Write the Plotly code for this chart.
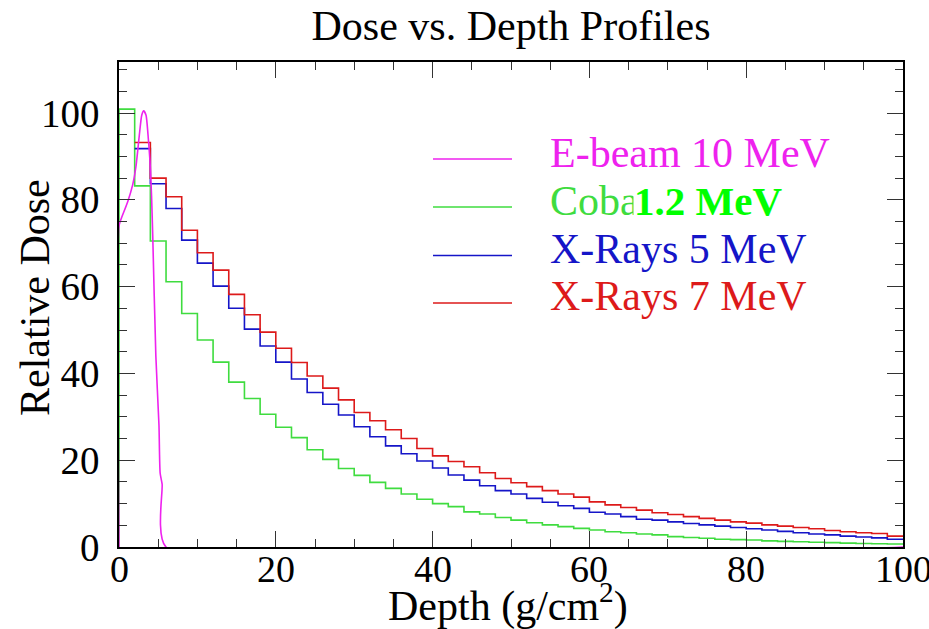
import plotly.graph_objects as go

# ---------------- data ----------------
bin_edges_green = [0, 0, 2, 4, 6, 8, 10, 12, 14, 16, 18, 20, 22, 24, 26, 28, 30, 32, 34, 36, 38,
                   40, 42, 44, 46, 48, 50, 52, 54, 56, 58, 60, 62, 64, 66, 68, 70, 72, 74, 76, 78,
                   80, 82, 84, 86, 88, 90, 92, 94, 96, 98, 100]
cobalt = [0, 100.9, 83.2, 70.5, 61.1, 53.8, 47.7, 42.6, 38.0, 34.2, 30.6, 27.6, 25.2, 22.4, 20.2,
          18.1, 16.5, 14.9, 13.5, 12.2, 11.0, 10.0, 9.3, 8.1, 7.6, 6.8, 6.2, 5.6, 5.1, 4.7, 4.3,
          3.9, 3.5, 3.3, 3.0, 2.8, 2.4, 2.2, 2.0, 1.8, 1.7, 1.6, 1.4, 1.3, 1.2, 1.1, 1.0, 0.9,
          0.8, 0.75, 0.7, 0.7]

bin_edges_x = [2, 4, 6, 8, 10, 12, 14, 16, 18, 20, 22, 24, 26, 28, 30, 32, 34, 36, 38,
               40, 42, 44, 46, 48, 50, 52, 54, 56, 58, 60, 62, 64, 66, 68, 70, 72, 74, 76, 78,
               80, 82, 84, 86, 88, 90, 92, 94, 96, 98, 100]
xray5 = [91.8, 83.7, 78.0, 70.7, 65.4, 60.1, 55.0, 50.2, 46.3, 42.6, 38.7, 35.6, 32.9, 30.4,
         27.7, 25.4, 23.3, 21.5, 19.8, 18.2, 16.6, 15.4, 14.1, 13.0, 12.2, 11.2, 10.3, 9.5, 8.9,
         8.0, 7.6, 7.0, 6.4, 6.2, 5.8, 5.4, 5.1, 4.8, 4.5, 4.2, 3.9, 3.6, 3.3, 3.0, 2.8, 2.5,
         2.3, 2.1, 1.8, 1.8]
xray7 = [93.2, 85.0, 80.7, 73.0, 67.8, 63.8, 58.2, 53.5, 49.5, 45.8, 42.5, 39.4, 36.6, 33.9,
         31.0, 29.1, 27.0, 25.0, 22.7, 21.0, 19.7, 18.5, 17.1, 15.8, 14.8, 13.9, 13.0, 12.2,
         11.5, 10.4, 9.7, 9.1, 8.5, 7.9, 7.5, 7.0, 6.6, 6.2, 5.8, 5.5, 5.1, 4.8, 4.5, 4.2, 3.8,
         3.5, 3.3, 3.1, 2.5, 2.5]

ebeam_depth = [0, 0, 0.25, 1.1, 1.75, 2.15, 2.6, 2.9, 3.15, 3.45, 3.7, 3.95, 4.15, 4.3, 4.7,
               5.1, 5.25, 5.5, 6.0, 100]
ebeam = [0, 74, 75.5, 79.5, 83.5, 87.5, 95, 99.5, 100.5, 99.5, 95, 89, 81, 72, 44, 28, 17,
         14.5, 0, 0]

labels = ["E-beam 10 MeV", "Cobalt 1.2 MeV", "X-Rays 5 MeV", "X-Rays 7 MeV"]
x_ticks = [0, 20, 40, 60, 80, 100]
y_ticks = [0, 20, 40, 60, 80, 100]

C_MAG = "#ee22ee"
C_GRN = "#3fdc3f"
C_BLU = "#1515c8"
C_RED = "#dd1a1a"
FONT = "Liberation Serif"

fig = go.Figure()
fig.add_trace(go.Scatter(x=bin_edges_green, y=cobalt, mode="lines", line_shape="hv",
                         line=dict(color=C_GRN, width=1.6), name=labels[1]))
fig.add_trace(go.Scatter(x=bin_edges_x, y=xray5, mode="lines", line_shape="hv",
                         line=dict(color=C_BLU, width=1.6), name=labels[2]))
fig.add_trace(go.Scatter(x=bin_edges_x, y=xray7, mode="lines", line_shape="hv",
                         line=dict(color=C_RED, width=1.6), name=labels[3]))
fig.add_trace(go.Scatter(x=ebeam_depth, y=ebeam, mode="lines", line_shape="spline",
                         line=dict(color=C_MAG, width=1.6, smoothing=0.6), name=labels[0]))

W, H = 929, 629
L, R, T, B = 119, 26, 62, 82
pw, ph = W - L - R, H - T - B


def px2paper(px, py):
    return (px - L) / pw, (H - B - py) / ph


# manual legend
rows = [(159, 153, labels[0], C_MAG), (207, 201, labels[1], C_GRN),
        (255.5, 249, labels[2], C_BLU), (303, 296, labels[3], C_RED)]
for ly, ty, txt, col in rows:
    x0, y0 = px2paper(433, ly)
    x1, _ = px2paper(512, ly)
    fig.add_shape(type="line", xref="paper", yref="paper", x0=x0, x1=x1, y0=y0, y1=y0,
                  line=dict(color=col, width=1.6))
    tx, tyy = px2paper(548, ty)
    fig.add_annotation(xref="paper", yref="paper", x=tx, y=tyy, xanchor="left",
                       yanchor="middle", text=txt, showarrow=False,
                       font=dict(family=FONT, size=42, color=col))

# bold overlay on cobalt label
ox, oy = px2paper(633, 201)
fig.add_annotation(xref="paper", yref="paper", x=ox, y=oy, xanchor="left", yanchor="middle",
                   text="<b>1.2 MeV</b>", showarrow=False, bgcolor="white", width=190,
                   align="left", borderpad=0,
                   font=dict(family=FONT, size=41, color="#00ff00"))

# x tick labels
_, tl_y = px2paper(0, 569)
for v in x_ticks:
    fig.add_annotation(xref="x", yref="paper", x=v, y=tl_y, xanchor="center",
                       yanchor="middle", text=str(v), showarrow=False,
                       font=dict(family=FONT, size=38, color="black"))

# axis titles as annotations
ax_x, ax_y = px2paper(508, 603)
fig.add_annotation(xref="paper", yref="paper", x=ax_x, y=ax_y, xanchor="center",
                   yanchor="middle", text="Depth (g/cm<sup>2</sup>)", showarrow=False,
                   font=dict(family=FONT, size=42, color="black"))
ay_x, ay_y = px2paper(35, 298)
fig.add_annotation(xref="paper", yref="paper", x=ay_x, y=ay_y, xanchor="center",
                   yanchor="middle", text="Relative Dose", textangle=-90, showarrow=False,
                   font=dict(family=FONT, size=42, color="black"))

axis_common = dict(showline=True, linecolor="black", linewidth=1.5, mirror="allticks",
                   ticks="inside", ticklen=16, tickwidth=1, tickcolor="#333333",
                   showgrid=False, zeroline=False, ticklabeloverflow="allow",
                   tickfont=dict(family=FONT, size=39, color="black"))

fig.update_layout(
    width=W, height=H,
    margin=dict(l=L, r=R, t=T, b=B, autoexpand=False),
    paper_bgcolor="white", plot_bgcolor="white",
    showlegend=False,
    title=dict(text="Dose vs. Depth Profiles", x=(L + pw / 2) / W, xanchor="center",
               y=1 - 25 / H, yanchor="middle",
               font=dict(family=FONT, size=42, color="black")),
    xaxis=dict(range=[0, 100], tickvals=x_ticks, showticklabels=False,
               minor=dict(dtick=5, ticks="inside", ticklen=8, tickcolor="#333333"),
               **axis_common),
    yaxis=dict(range=[0, 111.75], tickvals=y_ticks, ticktext=[str(v) for v in y_ticks],
               minor=dict(dtick=5, ticks="inside", ticklen=8, tickcolor="#333333"),
               ticklabelstandoff=10,
               **axis_common),
)

fig.write_html("out.html", config={"displayModeBar": False},
               post_script="document.body.style.margin='0px';")
